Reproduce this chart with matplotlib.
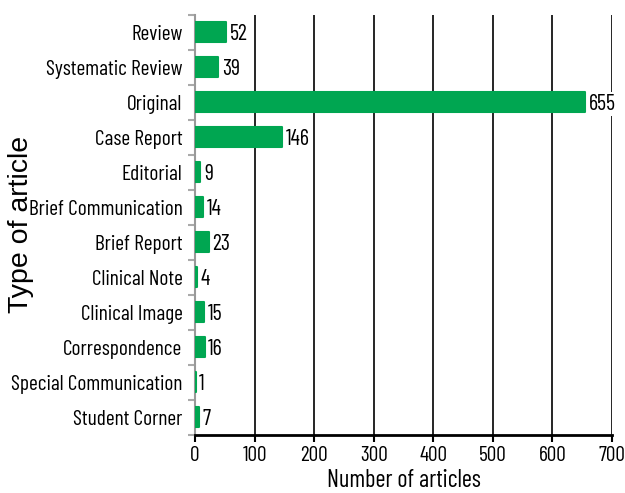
import numpy as np
import matplotlib
matplotlib.use("Agg")
import matplotlib.pyplot as plt
from matplotlib import font_manager
from matplotlib.font_manager import FontProperties
from matplotlib.textpath import TextPath

# article types, top to bottom
types = ["Review", "Systematic Review", "Original", "Case Report", "Editorial",
         "Brief Communication", "Brief Report", "Clinical Note", "Clinical Image",
         "Correspondence", "Special Communication", "Student Corner"]
counts = [52, 39, 655, 146, 9, 14, 23, 4, 15, 16, 1, 7]
xticks = [0, 100, 200, 300, 400, 500, 600, 700]

# the original is squeezed sideways: pick the installed narrow font whose
# width / cap-height is closest to the picture's (~160px wide, 16px caps)
names = {f.name for f in font_manager.fontManager.ttflist}
cands = ["Liberation Sans Narrow", "Arimo Narrow", "PT Sans Narrow", "Pragati Narrow",
         "Archivo Narrow", "Roboto Condensed", "Fira Sans Extra Condensed",
         "Fira Sans Condensed", "Barlow Condensed", "Barlow Semi Condensed",
         "IBM Plex Sans Condensed", "Asap Condensed", "Encode Sans Condensed",
         "Sofia Sans Condensed", "Open Sans Condensed", "Ubuntu Condensed"]
target = 160 / 16.0
best, best_err, best_cap = "DejaVu Sans", 1e9, 0.73
for c in cands:
    if c not in names:
        continue
    fp = FontProperties(family=c)
    w = TextPath((0, 0), "Special Communication", size=1, prop=fp).get_extents().width
    h = TextPath((0, 0), "H", size=1, prop=fp).get_extents().height
    err = abs(w / h - target)
    if err < best_err:
        best, best_err, best_cap = c, err, h
fam = best
plt.rcParams['font.family'] = [fam, 'DejaVu Sans']
wide = "Liberation Sans" if "Liberation Sans" in names else "DejaVu Sans"

def size_for_cap(px):
    # font size in points giving a cap height of px pixels at 100 dpi
    return px / best_cap * 72 / 100

green = "#00A651"

fig = plt.figure(figsize=(6.25, 4.93), dpi=100)
ax = fig.add_axes([0.312, 0.118, 0.667, 0.852])

y = np.arange(len(types))
ax.barh(y, counts, height=0.57, color=green, edgecolor=green, linewidth=1.5,
        joinstyle='round', zorder=3)

lab_fs = size_for_cap(15)
for yi, c in zip(y, counts):
    ax.text(c + 6, yi + 0.05, str(c), va='center', ha='left', fontsize=size_for_cap(15.5),
            zorder=4, bbox=dict(boxstyle='square,pad=0.05', fc='white', ec='none'))

ax.set_xlim(0, 700)
ax.set_ylim(len(types) - 0.5, -0.5)
ax.set_xticks(xticks)
ax.set_xticklabels([str(v) for v in xticks], fontsize=lab_fs)
ax.set_yticks(y)
ax.set_yticklabels(types, fontsize=lab_fs)
ax.tick_params(axis='y', length=0, pad=9)
ax.set_yticks(np.arange(-0.5, len(types), 1), minor=True)
ax.tick_params(axis='y', which='minor', length=5, color='#aaaaaa', width=1.5)
ax.tick_params(axis='x', length=5, width=1.5, color='black', pad=3)

ax.grid(axis='x', color='black', linewidth=1.2, zorder=0)

ax.spines['top'].set_visible(False)
ax.spines['right'].set_visible(False)
ax.spines['left'].set_color('#999999')
ax.spines['left'].set_linewidth(1.5)
ax.spines['bottom'].set_linewidth(2)

ax.set_xlabel("Number of articles", fontsize=size_for_cap(17), labelpad=3)
fig.text(0.034, 0.544, "Type of article", rotation=90, va='center', ha='center',
         fontsize=20.5, family=[wide, 'DejaVu Sans'])

fig.savefig("out.png", dpi=100)
